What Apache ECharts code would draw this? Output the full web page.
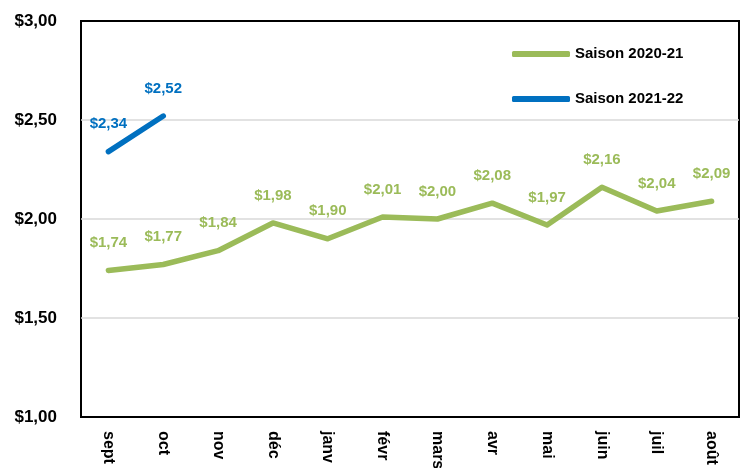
<!DOCTYPE html>
<html>
	<head>
		<meta charset="utf-8" />
		<title>Prix</title>
		<style>
			html, body { margin: 0; padding: 0; background: #fff; }
			#chart { width: 747px; height: 468px; }
		</style>
	</head>
	<body>
		<div id="chart"></div>
		<script src="https://cdn.jsdelivr.net/npm/echarts@6/dist/echarts.min.js"></script>
		<script>
			// mois de la saison
			var mois = ['sept', 'oct', 'nov', 'déc', 'janv', 'févr', 'mars', 'avr', 'mai', 'juin', 'juil', 'août'];
			var saison2021 = [1.74, 1.77, 1.84, 1.98, 1.90, 2.01, 2.00, 2.08, 1.97, 2.16, 2.04, 2.09];
			var saison2122 = [2.34, 2.52];
			var yTicks = [1, 1.5, 2, 2.5, 3];

			var font = 'Arial, "Liberation Sans", sans-serif';
			function prix(v){
				return '$' + Number(v).toFixed(2).replace('.', ',');
			}

			function serie(nom, valeurs, couleur){
				return {
					name: nom,
					type: 'line',
					data: valeurs,
					symbol: 'circle',
					symbolSize: 0.1,
					showSymbol: true,
					color: couleur,
					lineStyle: { width: 5.5, color: couleur, cap: 'round', join: 'round' },
					label: {
						show: true,
						position: 'top',
						distance: 20,
						fontFamily: font,
						fontWeight: 'bold',
						fontSize: 15,
						color: couleur,
						formatter: function(p){ return prix(p.value); }
					}
				};
			}

			var myChart = echarts.init(document.getElementById('chart'));
			myChart.setOption({
				animation: false,
				grid: {
					left: 81, right: 8, top: 21, bottom: 51,
					outerBoundsMode: 'none',
					containLabel: false,
					show: true,
					borderColor: '#000',
					borderWidth: 2
				},
				legend: {
					orient: 'vertical',
					left: 507,
					top: 41,
					itemWidth: 58,
					itemHeight: 6,
					itemGap: 29,
					icon: 'roundRect',
					textStyle: { fontFamily: font, fontWeight: 'bold', fontSize: 15, color: '#000', lineHeight: 16 },
					data: ['Saison 2020-21', 'Saison 2021-22']
				},
				xAxis: {
					type: 'category',
					data: mois,
					boundaryGap: true,
					axisLine: { show: false },
					axisTick: { show: false },
					axisLabel: {
						rotate: -90,
						margin: 14,
						interval: 0,
						fontFamily: font,
						fontWeight: 'bold',
						fontSize: 16,
						color: '#000'
					}
				},
				yAxis: {
					type: 'value',
					min: yTicks[0],
					max: yTicks[yTicks.length - 1],
					interval: 0.5,
					axisLine: { show: false },
					axisTick: { show: false },
					splitLine: { showMinLine: false, showMaxLine: false, lineStyle: { color: '#d9d9d9', width: 1.5 } },
					axisLabel: {
						margin: 24,
						fontFamily: font,
						fontWeight: 'bold',
						fontSize: 17,
						color: '#000',
						formatter: prix
					}
				},
				series: [
					serie('Saison 2020-21', saison2021, '#9bbb59'),
					serie('Saison 2021-22', saison2122, '#0070c0')
				]
			});
		</script>
	</body>
</html>
